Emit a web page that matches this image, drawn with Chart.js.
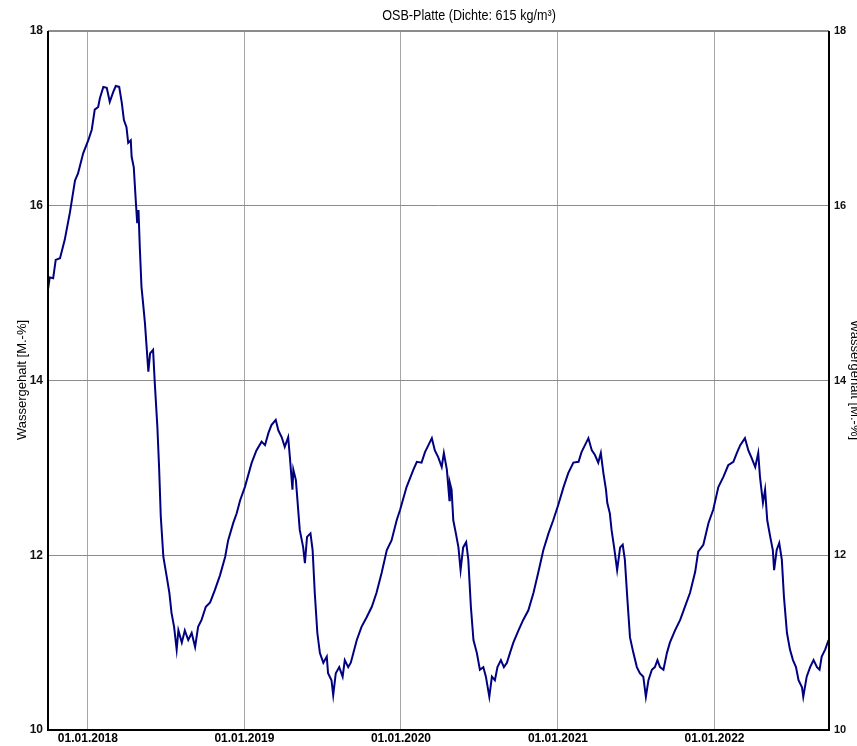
<!DOCTYPE html>
<html>
<head>
<meta charset="utf-8">
<script src="https://cdn.jsdelivr.net/npm/chart.js@4/dist/chart.umd.min.js"></script>
<style>
  html, body { margin: 0; padding: 0; background: #ffffff; }
  #wrap { width: 857px; height: 746px; position: relative; }
</style>
</head>
<body>
<div id="wrap"><canvas id="c" width="857" height="746"></canvas></div>
<script>
// Moisture content of the OSB board over time (days counted from 01.01.2018)
const days = [
  -93, -89, -81, -75, -65, -54, -42, -30, -23, -11,
  1, 9, 16, 24, 28, 36, 44, 51, 59, 65,
  73, 79, 84, 90, 94, 100, 102, 107, 112, 115,
  118, 121, 125, 128, 133, 137, 141, 145, 152, 156,
  162, 166, 170, 176, 184, 190, 195, 201, 207, 211,
  219, 226, 234, 242, 250, 257, 265, 275, 285, 296,
  308, 320, 327, 339, 347, 355, 366, 382, 393, 405,
  413, 421, 428, 438, 444, 452, 459, 467, 471, 477,
  479, 485, 491, 494, 502, 506, 511, 519, 524, 529,
  535, 541, 549, 557, 560, 568, 572, 578, 586, 594,
  599, 607, 613, 619, 627, 638, 650, 662, 673, 685,
  697, 708, 720, 728, 743, 759, 767, 778, 786, 794,
  802, 809, 817, 825, 830, 837, 843, 844, 848, 852,
  858, 864, 869, 875, 882, 887, 893, 899, 907, 914,
  922, 928, 936, 942, 949, 955, 963, 970, 977, 984,
  992, 1004, 1015, 1027, 1039, 1050, 1062, 1074, 1085, 1097,
  1109, 1120, 1132, 1144, 1151, 1159, 1167, 1175, 1182, 1190,
  1196, 1202, 1208, 1211, 1217, 1221, 1227, 1234, 1241, 1247,
  1252, 1258, 1264, 1272, 1280, 1287, 1295, 1301, 1307, 1315,
  1322, 1328, 1334, 1342, 1350, 1357, 1369, 1381, 1392, 1404,
  1416, 1423, 1435, 1447, 1458, 1470, 1482, 1493, 1505, 1513,
  1521, 1532, 1540, 1548, 1556, 1563, 1567, 1574, 1579, 1584,
  1591, 1597, 1600, 1606, 1612, 1618, 1623, 1630, 1637, 1644,
  1651, 1657, 1665, 1668, 1676, 1684, 1692, 1700, 1706, 1711,
  1719, 1727
];

const moisture = [
  15.04, 15.18, 15.17, 15.38, 15.40, 15.61, 15.92, 16.29, 16.37, 16.60,
  16.75, 16.87, 17.10, 17.13, 17.23, 17.36, 17.35, 17.19, 17.30, 17.37,
  17.36, 17.18, 16.98, 16.90, 16.72, 16.75, 16.56, 16.44, 16.03, 15.80,
  15.95, 15.53, 15.07, 14.92, 14.66, 14.38, 14.10, 14.31, 14.35, 13.97,
  13.47, 13.01, 12.44, 11.98, 11.75, 11.57, 11.34, 11.18, 10.92, 11.14,
  11.00, 11.14, 11.03, 11.11, 10.95, 11.18, 11.26, 11.41, 11.46, 11.60,
  11.77, 11.98, 12.17, 12.37, 12.48, 12.63, 12.78, 13.06, 13.20, 13.30,
  13.26, 13.40, 13.49, 13.55, 13.43, 13.35, 13.24, 13.35, 13.12, 12.75,
  12.98, 12.86, 12.48, 12.29, 12.09, 11.91, 12.21, 12.25, 12.06, 11.57,
  11.11, 10.88, 10.77, 10.84, 10.65, 10.57, 10.40, 10.65, 10.72, 10.61,
  10.80, 10.72, 10.77, 10.88, 11.03, 11.18, 11.29, 11.41, 11.57, 11.80,
  12.06, 12.17, 12.40, 12.52, 12.78, 12.98, 13.07, 13.06, 13.18, 13.26,
  13.34, 13.20, 13.12, 13.01, 13.17, 12.98, 12.63, 12.83, 12.75, 12.40,
  12.25, 12.09, 11.83, 12.09, 12.15, 11.95, 11.41, 11.03, 10.88, 10.69,
  10.72, 10.61, 10.38, 10.61, 10.57, 10.72, 10.80, 10.72, 10.77, 10.88,
  11.00, 11.14, 11.26, 11.37, 11.57, 11.80, 12.06, 12.25, 12.40, 12.58,
  12.78, 12.94, 13.06, 13.07, 13.18, 13.26, 13.34, 13.20, 13.15, 13.06,
  13.17, 12.94, 12.75, 12.60, 12.48, 12.29, 12.09, 11.83, 12.09, 12.12,
  11.95, 11.49, 11.06, 10.88, 10.72, 10.65, 10.61, 10.38, 10.57, 10.69,
  10.72, 10.80, 10.72, 10.69, 10.88, 11.00, 11.14, 11.26, 11.41, 11.57,
  11.81, 12.04, 12.12, 12.37, 12.52, 12.78, 12.90, 13.03, 13.07, 13.17,
  13.26, 13.34, 13.20, 13.11, 13.01, 13.17, 12.90, 12.60, 12.75, 12.40,
  12.21, 12.06, 11.83, 12.06, 12.14, 11.95, 11.52, 11.11, 10.92, 10.80,
  10.72, 10.57, 10.49, 10.38, 10.61, 10.72, 10.80, 10.72, 10.69, 10.84,
  10.92, 11.03
];

// Year boundaries on the time axis and their labels
const yearTicks = [0, 365, 730, 1096, 1461];
const yearLabels = ['01.01.2018', '01.01.2019', '01.01.2020', '01.01.2021', '01.01.2022'];
const yTicks = [10, 12, 14, 16, 18];

const chartTitle = 'OSB-Platte (Dichte: 615 kg/m³)';
const axisTitle = 'Wassergehalt [M.-%]';

const FONT = '"Liberation Sans", Arial, sans-serif';

const points = days.map((d, i) => ({ x: d, y: moisture[i] }));

// Draws chart title and the two rotated axis titles, plus frame lines
const decorations = {
  id: 'decorations',
  afterDraw(chart) {
    const { ctx, chartArea } = chart;
    const midY = 380;
    ctx.save();
    ctx.fillStyle = '#000';
    ctx.textAlign = 'center';
    ctx.textBaseline = 'middle';

    // condensed title
    ctx.save();
    ctx.translate(469, 16);
    ctx.scale(0.84, 1);
    ctx.font = '15px ' + FONT;
    ctx.fillText(chartTitle, 0, 0);
    ctx.restore();

    ctx.font = '13px ' + FONT;
    ctx.save();
    ctx.translate(22, midY);
    ctx.rotate(-Math.PI / 2);
    ctx.fillText(axisTitle, 0, 0);
    ctx.restore();

    ctx.save();
    ctx.translate(855, midY);
    ctx.rotate(Math.PI / 2);
    ctx.fillText(axisTitle, 0, 0);
    ctx.restore();

    // plot frame: grey top, black left/right/bottom
    ctx.lineWidth = 2;
    ctx.strokeStyle = '#8c8c8c';
    ctx.beginPath();
    ctx.moveTo(chartArea.left, chartArea.top);
    ctx.lineTo(chartArea.right, chartArea.top);
    ctx.stroke();
    ctx.strokeStyle = '#000';
    ctx.beginPath();
    ctx.moveTo(chartArea.left, chartArea.top);
    ctx.lineTo(chartArea.left, chartArea.bottom);
    ctx.lineTo(chartArea.right, chartArea.bottom);
    ctx.lineTo(chartArea.right, chartArea.top);
    ctx.stroke();
    ctx.restore();
  }
};

new Chart(document.getElementById('c'), {
  type: 'line',
  data: {
    datasets: [{
      data: points,
      borderColor: '#000080',
      borderWidth: 2,
      pointRadius: 0,
      tension: 0,
      fill: false
    }]
  },
  options: {
    responsive: false,
    animation: false,
    events: [],
    layout: { padding: { top: 31, left: 0, right: 0, bottom: 0 } },
    plugins: {
      legend: { display: false },
      title: { display: false },
      tooltip: { enabled: false }
    },
    scales: {
      x: {
        type: 'linear',
        min: -93,
        max: 1728,
        afterBuildTicks(scale) {
          scale.ticks = yearTicks.map(v => ({ value: v }));
        },
        afterFit(scale) { scale.height = 16; },
        ticks: {
          callback: (v) => yearLabels[yearTicks.indexOf(v)],
          color: '#000',
          font: { family: FONT, size: 12, weight: 'bold' },
          padding: 1,
          maxRotation: 0,
          autoSkip: false
        },
        grid: { color: '#a6a6a6', lineWidth: 1, drawTicks: false },
        border: { display: false }
      },
      y: {
        position: 'left',
        min: 10,
        max: 18,
        afterBuildTicks(scale) {
          scale.ticks = yTicks.map(v => ({ value: v }));
        },
        afterFit(scale) { scale.width = 48; },
        ticks: {
          color: '#111',
          font: { family: FONT, size: 12, weight: 'bold' },
          padding: 5
        },
        grid: {
          color: (c) => (c.tick && (c.tick.value === 10 || c.tick.value === 18)) ? 'rgba(0,0,0,0)' : '#8c8c8c',
          lineWidth: 1,
          drawTicks: false
        },
        border: { display: false }
      },
      y2: {
        position: 'right',
        min: 10,
        max: 18,
        afterBuildTicks(scale) {
          scale.ticks = yTicks.map(v => ({ value: v }));
        },
        afterFit(scale) { scale.width = 28; },
        ticks: {
          color: '#111',
          font: { family: FONT, size: 11, weight: 'bold' },
          padding: 5
        },
        grid: { drawOnChartArea: false, drawTicks: false },
        border: { display: false }
      }
    }
  },
  plugins: [decorations]
});
</script>
</body>
</html>
